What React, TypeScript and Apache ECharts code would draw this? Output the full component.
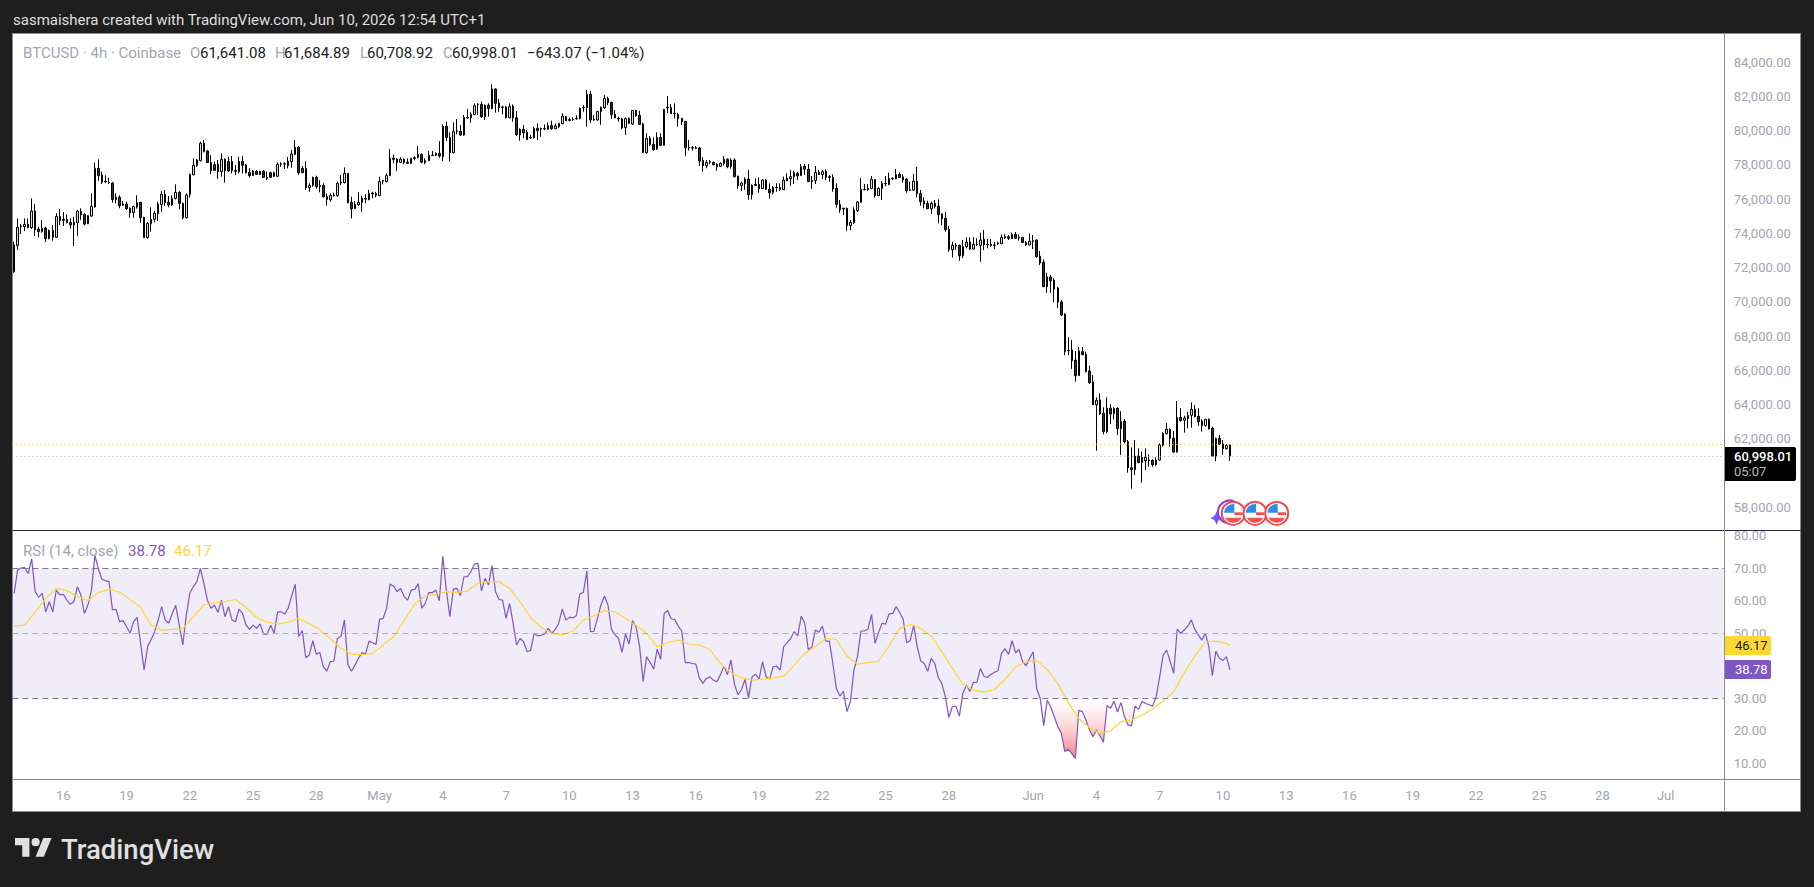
import { useEffect, useRef } from 'react';
import * as echarts from 'echarts';

// [open, close, low, high] per 4h bar
const candles = [
  [71760,73320,71700,73510],[73280,74350,73030,74870],[74390,74430,73960,74540],[74390,74520,74130,74870],[74520,74330,74290,74870],
  [74330,75300,74250,76040],[75300,74210,73840,75710],[74250,74100,73770,74390],[74100,74290,74040,74780],[74310,73690,73490,74390],
  [73690,74170,73650,74230],[74170,73770,73570,74470],[73770,74990,73730,75170],[74990,74740,74470,75420],[74820,74760,74430,75240],
  [74820,74620,74580,75110],[74640,74500,74270,74870],[74500,74640,73260,74970],[74620,75300,73840,75360],[75280,75090,74780,75460],
  [75110,74540,74470,75170],[74560,75030,74540,75070],[75010,75580,74970,76340],[75540,77800,75500,78130],[77800,77370,77060,78320],
  [77400,77000,76880,77600],[77040,77000,76960,77390],[76980,76940,76880,77250],[76940,75970,75790,77000],[75970,76100,75750,76340],
  [76100,75610,75460,76220],[75710,75650,75600,75890],[75710,75440,75360,75850],[75460,75200,74910,75520],[75200,75560,74910,75610],
  [75540,75790,75440,76220],[75810,74910,74620,75830],[74930,73750,73730,74970],[73750,74580,73690,74660],[74560,74820,74100,75520],
  [74820,75170,74640,75320],[75150,75710,74720,75850],[75690,76280,75260,76470],[76280,75790,75600,76530],[75810,75650,75520,76180],
  [75650,76040,75600,76220],[76040,76390,75980,76860],[76390,75750,75400,76470],[75750,74910,74820,75790],[74910,76240,74870,76340],
  [76260,77440,76080,77500],[77420,77970,77390,78380],[77950,78280,77890,78340],[78240,79260,78200,79350],[79260,78770,78730,79450],
  [78810,78130,78120,78870],[78130,77660,77460,78570],[78010,77680,77640,78190],[78030,77600,77190,78280],[77600,78320,77310,78670],
  [78320,77660,76960,78380],[78200,77640,77600,78480],[78200,77660,77500,78520],[77680,77620,77410,77990],[77600,78200,77500,78480],
  [78200,77970,77500,78520],[77990,77540,77500,78050],[77560,77370,77250,77800],[77370,77640,77350,77700],[77620,77440,77410,77700],
  [77620,77440,77410,77660],[77620,77270,77230,77700],[77270,77210,77110,77600],[77540,77270,77250,77600],[77540,77330,77310,77600],
  [77330,78030,77310,78150],[78030,78050,77890,78150],[78050,78060,77760,78150],[77950,78220,77790,78460],[78180,78630,77830,78870],
  [78610,79020,78570,79450],[79040,77540,77420,79100],[77790,77540,77530,77930],[77790,76670,76530,78220],[76670,76800,76430,76920],
  [76800,77270,76720,77310],[77270,76720,76610,77370],[76800,76740,76390,77110],[76800,76140,76080,76920],[76160,75980,75610,76330],
  [75960,76220,75850,76330],[76220,76200,76140,76370],[76200,76920,76140,77020],[76980,76940,76820,77400],[76960,77500,76920,77850],
  [77500,75790,75750,77520],[75810,75440,74870,76140],[75440,75690,75420,75890],[75670,75810,75590,76390],[75810,76040,75260,76200],
  [76040,76000,75750,76280],[75960,76330,75940,76530],[76350,76300,76040,76430],[76330,76220,76100,76430],[76200,77020,76180,77310],
  [77070,77040,76860,77110],[77020,77370,76980,77500],[77370,78380,77350,78920],[78380,78320,78090,78610],[78340,78130,77640,78380],
  [78150,78320,78100,78440],[78320,78150,78030,78380],[78150,78090,78070,78380],[78090,78380,78050,78390],[78420,78380,78260,78500],
  [78420,78610,78380,79100],[78610,78150,78090,78670],[78130,78260,78030,78380],[78240,78550,78220,78810],[78550,78570,78530,78810],
  [78570,78670,78510,78730],[78670,78520,78420,79390],[78480,80250,78220,80360],[80250,79590,79390,80520],[79600,78710,78180,79900],
  [78710,79940,78670,80480],[79980,79940,79780,80680],[79960,79740,79700,80330],[79740,80770,79700,80910],[80770,80730,80710,81260],
  [80750,80950,80460,81070],[80930,81450,80910,81590],[81550,81530,80910,81590],[81530,80810,80750,81690],[80810,81480,80620,81530],
  [81480,81280,80810,81590],[81280,82430,81240,82700],[82430,81590,81050,82470],[81610,81340,81100,81850],[81380,81360,80950,81450],
  [81380,80750,80710,81420],[80750,81400,80710,81590],[81420,80750,80520,81530],[80750,79760,79680,81140],[79740,80070,79410,80130],
  [80070,79880,79550,80330],[79900,79470,79450,80030],[79600,79570,79530,79740],[79580,80130,79550,80230],[80130,80000,79450,80420],
  [80130,80090,79640,80170],[80110,80090,80030,80360],[80090,80290,80050,80480],[80290,80110,80050,80580],[80110,80270,80090,80420],
  [80230,80420,80150,80460],[80400,80850,80380,81010],[80810,80580,80560,80850],[80640,80600,80540,80750],[80660,80640,80580,80770],
  [80700,80680,80640,80890],[80700,81300,80660,81340],[81360,81340,81100,81490],[81340,82120,80230,82370],[82120,80620,80460,82310],
  [80660,80620,80580,80910],[80620,81120,80580,81140],[81100,81360,80330,81400],[81340,81880,81260,82080],[81880,81630,81490,81980],
  [81650,80930,80680,81690],[80950,80750,80710,81200],[80710,80680,80520,80810],[80680,80150,80090,80750],[80170,80710,79740,80770],
  [80710,80420,80380,80770],[80380,81180,80340,81200],[81180,80870,80810,81200],[80890,80360,80320,81160],[80380,78710,78690,80460],
  [78710,79550,78650,79840],[79550,79180,79100,79680],[79200,78880,78830,79600],[78920,79600,78880,79900],[79600,79140,79120,79840],
  [79140,81240,79120,81260],[81360,81320,81010,82020],[81360,80990,80970,81550],[81010,80990,80710,81590],[80950,80700,80230,81050],
  [80710,80520,80330,80750],[80540,79000,78520,80560],[79020,78980,78830,79450],[79000,78980,78830,79100],[79000,78960,78920,79100],
  [78980,78220,77930,79060],[78260,77950,77600,78440],[77950,78130,77800,78280],[78170,78150,78050,78280],[78150,78010,77970,78190],
  [78030,77890,77660,78090],[77910,78090,77890,78150],[78070,78320,77950,78510],[78320,77890,77800,78380],[77890,78280,77780,78380],
  [78280,77310,77270,78380],[77330,76780,76590,77370],[76780,76940,76470,77010],[76900,77170,76530,77270],[77170,76260,75960,77700],
  [76800,76260,75980,76860],[76860,76800,76760,77210],[76860,76600,76370,77270],[76620,77110,76590,77150],[77110,76570,76550,77150],
  [76570,76370,76020,76920],[76390,76680,76260,76760],[76680,76660,76430,76920],[76680,76550,76470,76920],[76550,77110,76530,77310],
  [77070,77230,77040,77500],[77190,77310,76780,77700],[77310,77540,76880,77660],[77500,77350,77110,77600],[77370,77890,77350,78050],
  [77910,77740,77410,78050],[77740,77020,77020,78050],[77080,77020,76590,77350],[77080,77560,76880,77930],[77560,77440,77410,77700],
  [77430,77600,77170,77700],[77620,77270,77110,77740],[77310,77270,77020,77410],[77270,76590,76430,77440],[76630,75690,75500,76920],
  [75690,75380,75200,75950],[75460,75420,75070,75500],[75460,74450,74150,75500],[74450,74640,74190,74780],[74620,75360,74540,75520],
  [75320,75830,75260,75890],[75810,76570,75790,77230],[76570,76550,76510,76880],[76630,76550,76490,76880],[76610,77150,76590,77350],
  [77150,76200,76080,77170],[76200,76630,76180,76670],[76610,76920,75950,77060],[76920,76900,76760,77350],[76840,77210,76820,77540],
  [77210,77190,77110,77270],[77190,77440,77150,77760],[77440,77270,77230,77560],[77290,77110,76960,77440],[77170,76490,76370,77210],
  [76550,76510,76470,77020],[76530,77040,76490,77460],[77040,76320,76100,77890],[76330,75850,75610,76530],[75890,75710,75460,76100],
  [75750,75440,75420,75910],[75440,75750,75130,75850],[75750,75580,75460,75950],[75580,75090,74580,75980],[75130,74860,74480,75170],
  [74880,74210,74100,75260],[74230,73040,72930,74430],[73040,73300,72580,73510],[73300,73260,73020,73450],[73300,72690,72400,73340],
  [72690,73220,72560,73610],[73220,73490,73120,73760],[73490,73080,73040,73760],[73080,73360,73060,73780],[73360,73340,73260,73710],
  [73300,73610,72340,74040],[73650,73340,73020,74190],[73360,73340,73120,73690],[73360,73280,73220,73670],[73320,73300,73080,73510],
  [73430,73390,73320,73510],[73390,73760,73380,73940],[73800,73730,73670,73940],[73800,73710,73610,73900],[73690,73940,73670,74040],
  [73940,73710,73670,74080],[73760,73730,73570,73920],[73760,73470,73430,73800],[73470,73320,73260,73550],[73320,73530,73300,74000],
  [73570,73530,73080,73900],[73610,72640,72580,73650],[72660,72270,72150,72970],[72310,70880,70880,72480],[70880,71450,70530,71700],
  [71450,71220,70520,71570],[71270,70750,69990,71390],[70810,69990,69640,70870],[69990,69230,69170,70110],[69290,67090,66890,69330],
  [67170,67150,66890,67930],[67190,66560,66080,67770],[66600,65690,65340,67130],[65690,67130,65670,67360],[67090,66910,66890,67360],
  [66930,65920,65880,67090],[65960,65280,65200,66270],[65320,63990,63970,65730],[63990,64250,61300,64420],[64270,63450,63390,64650],
  [63490,62420,62260,63840],[62420,63780,62320,64420],[63780,63450,62860,64010],[63470,63780,63130,63840],[63780,62590,62220,63840],
  [62590,63020,61050,63620],[63020,61830,61730,63160],[61830,60310,60020,61930],[60310,60200,59090,61500],[60200,60990,59880,61930],
  [60990,60610,60570,61440],[60920,60620,59440,61250],[60720,60920,60180,61440],[60760,60720,60370,61090],[60740,60490,60370,60800],
  [60490,60760,60430,60920],[60760,61640,60720,61730],[61620,62320,61540,62380],[62300,62550,62260,62920],[62550,62030,61540,62610],
  [62030,61230,61190,62450],[61230,63250,61190,64210],[63250,63060,63000,63780],[63080,63210,62360,63350],[63180,63370,62610,63580],
  [63370,63720,62650,64130],[63720,63290,63250,63970],[63310,63000,62750,63780],[63040,62770,62420,63140],[62770,63140,62710,63160],
  [63140,62570,62550,63190],[62610,60990,60950,62710],[60990,62030,60700,62070],[62030,61680,61640,62220],[61700,61420,61070,61930],
  [61420,61620,61380,61680],[61641.08,60998.01,60708.92,61684.89],
];

const rsiValues = [
  62.3,69.5,70.1,70.2,68.4,72.8,62.8,61.1,62.3,56.6,59.7,56.6,63.3,61.8,62.0,60.2,58.9,59.7,64.3,61.8,
  56.1,58.7,63.3,73.9,69.7,66.6,66.2,65.9,57.2,57.4,53.6,53.9,52.0,50.0,53.6,54.9,46.9,38.7,45.9,48.1,
  50.5,54.1,58.2,54.1,53.1,56.1,58.6,52.5,46.4,55.6,62.3,64.3,65.9,70.0,65.4,60.2,57.7,58.7,56.4,60.2,
  55.1,58.2,54.1,53.6,57.4,56.1,52.5,51.2,52.5,51.5,52.9,49.7,49.7,52.5,50.0,56.6,56.6,55.9,57.7,61.5,
  65.1,49.0,50.8,42.5,43.3,47.7,43.6,44.1,39.7,38.4,41.3,41.4,48.4,49.0,54.1,40.4,38.3,40.2,42.3,44.1,
  43.6,47.6,47.1,46.6,54.3,54.6,57.7,65.2,64.5,62.8,63.8,61.3,60.2,63.3,63.5,65.2,57.7,59.2,62.5,62.5,
  63.3,60.0,73.8,63.3,55.1,63.6,63.8,61.6,67.4,67.4,69.0,71.3,71.5,63.0,66.9,64.9,70.8,62.8,60.4,60.2,
  54.6,59.2,53.1,46.4,48.4,47.4,44.3,44.8,50.0,49.2,49.4,49.8,51.5,50.0,51.2,53.1,57.5,54.1,54.9,54.8,
  55.4,62.1,62.6,69.2,50.5,50.6,54.6,58.7,61.5,58.7,51.2,49.5,48.4,44.1,49.8,46.7,53.9,52.0,45.9,35.1,
  42.8,41.0,39.0,45.1,42.0,56.1,57.0,54.4,54.3,52.2,50.7,41.0,41.0,40.7,40.5,36.3,34.6,36.1,36.6,35.6,
  35.1,37.2,39.9,37.2,41.8,34.3,31.1,32.7,35.8,30.2,36.6,37.4,35.9,41.3,36.6,35.9,39.7,39.9,38.7,45.9,
  47.1,48.4,50.5,49.2,55.3,53.1,45.0,45.7,51.0,50.3,52.2,47.6,47.6,40.7,33.0,30.7,32.1,25.9,29.0,38.7,
  42.8,50.7,50.7,51.3,55.8,46.9,50.2,53.1,52.8,56.0,56.1,58.2,56.4,54.4,47.1,47.7,52.5,45.9,41.5,40.7,
  38.3,42.3,40.7,36.4,34.6,30.5,24.1,27.4,27.6,24.5,31.5,34.1,32.1,34.9,35.0,39.2,36.8,36.4,37.4,38.0,
  38.5,43.8,45.3,43.5,47.7,44.0,45.0,41.3,40.0,42.3,44.3,33.0,30.0,21.6,29.4,27.4,24.3,21.3,19.2,13.6,
  14.3,13.0,11.5,26.3,25.9,23.3,20.4,18.2,20.2,18.4,16.5,27.7,26.9,29.1,25.8,28.7,24.3,21.8,21.5,27.6,
  26.6,29.0,28.4,28.0,27.6,30.5,36.6,43.3,44.8,41.3,37.7,51.3,50.0,51.0,52.2,54.1,51.2,49.5,47.9,50.0,
  45.9,37.0,44.5,42.3,41.6,42.8,38.78,
];

// the yellow average, read at every third bar
const rsiAverage = [
  52.3,52.5,56.6,60.7,63.8,63.1,61.3,60.0,62.6,63.5,62.7,60.5,58.0,52.5,51.0,51.2,51.4,55.1,58.7,59.4,
  59.7,60.4,58.0,54.9,53.4,52.9,53.4,54.6,52.9,51.2,48.3,45.4,43.6,43.4,43.8,46.4,49.0,53.9,59.0,61.5,
  62.0,62.8,62.6,63.0,65.4,65.9,65.9,63.8,59.7,54.9,51.8,50.0,49.5,50.7,54.1,55.4,57.0,56.6,54.6,52.5,
  50.0,45.9,47.1,47.9,46.7,46.4,45.0,40.7,37.9,36.3,35.6,35.9,36.2,36.8,40.2,43.8,45.9,48.4,48.1,43.0,
  40.5,41.0,41.4,46.1,51.5,52.7,51.5,49.2,44.3,39.2,34.4,32.5,32.0,32.7,35.8,39.7,41.3,41.6,38.9,34.6,
  28.6,23.8,21.0,19.2,20.0,22.8,23.3,24.8,26.8,29.2,32.0,37.9,43.0,47.4,47.6,46.9,
];
const lastAverage = 46.17;

// 60,000 and 40.00 sit behind the price tags in the reference
const priceTicks = [58000,62000,64000,66000,68000,70000,72000,74000,76000,78000,80000,82000,84000];
const rsiTicks = [10,20,30,50,60,70,80];
const timeLabels = ['16','19','22','25','28','May','4','7','10','13','16','19','22','25','28','Jun','4','7','10','13','16','19','22','25','28','Jul'];
const timeLabelBars = [14,32,50,68,86,104,122,140,158,176,194,212,230,248,266,290,308,326,344,362,380,398,416,434,452,470];

const BAR_COUNT = 487;
const FONT = 'Roboto';
const categories = Array.from({ length: BAR_COUNT }, (_, i) => String(i));
const labelAt = new Map(timeLabelBars.map((bar, i) => [bar, timeLabels[i]]));

echarts.graphic.registerShape('tvLogo', echarts.graphic.extendPath(
  'M14 22H7V11H0V4h14v18zM28 22h-8l7.5-18h8L28 22zM24 8a4 4 0 1 1-8 0 4 4 0 0 1 8 0z', {}));
echarts.graphic.registerShape('flagCap', echarts.graphic.extendPath('M-8.3 4.5A9.4 9.4 0 0 0 8.3 4.5Z', {}));
echarts.graphic.registerShape('flagBlue', echarts.graphic.extendPath('M-9.3 -0.5A9.4 9.4 0 0 1 1 -9.3V-0.5Z', {}));
echarts.graphic.registerShape('star4', echarts.graphic.extendPath('M0 -7Q1 -1 7 0Q1 1 0 7Q-1 1 -7 0Q-1 -1 0 -7Z', {}));

function label(text: string, x: number, y: number, fill: string, size = 15, weight = 400) {
  return {
    type: 'text', x, y, z: 100,
    style: { text, fill, fontFamily: FONT, fontSize: size, fontWeight: weight, verticalAlign: 'middle' },
  };
}

function flag(cx: number, cy: number, z: number) {
  return {
    type: 'group', x: cx, y: cy,
    children: [
      { type: 'circle', z, shape: { cx: 0, cy: 0, r: 11.5 }, style: { fill: '#ffffff', stroke: '#f04a55', lineWidth: 2 } },
      { type: 'flagBlue', z: z + 1, style: { fill: '#2f8fe8' } },
      { type: 'rect', z: z + 1, shape: { x: 1, y: -1, width: 8.4, height: 2.8 }, style: { fill: '#ef5350' } },
      { type: 'flagCap', z: z + 1, style: { fill: '#ef5350' } },
    ],
  };
}

export default function App() {
  const chartRef = useRef<HTMLDivElement>(null);

  useEffect(() => {
    if (!chartRef.current) return;
    const chart = echarts.init(chartRef.current, null, { renderer: 'svg' });

    const axisText = { color: '#a3a6af', fontFamily: FONT, fontSize: 13 };

    const option: any = {
      animation: false,
      backgroundColor: '#1e1e1e',
      grid: [
        { left: 12.35, top: 34, width: 1711.3, height: 496 },
        { left: 12.35, top: 530, width: 1711.3, height: 249 },
      ],
      xAxis: [
        {
          type: 'category', gridIndex: 0, data: categories, boundaryGap: true,
          axisLine: { show: false }, axisTick: { show: false }, axisLabel: { show: false }, splitLine: { show: false },
        },
        {
          type: 'category', gridIndex: 1, data: categories, boundaryGap: true,
          axisLine: { show: false }, axisTick: { show: false }, splitLine: { show: false },
          axisLabel: {
            ...axisText,
            margin: 10,
            interval: (index: number) => labelAt.has(index),
            formatter: (_value: string, index: number) => labelAt.get(index) ?? '',
          },
        },
      ],
      yAxis: [
        {
          type: 'value', gridIndex: 0, position: 'right', min: 56674, max: 85641, scale: true,
          splitLine: { show: false }, axisLine: { show: false }, axisTick: { show: false },
          axisLabel: {
            ...axisText, margin: 10, customValues: priceTicks,
            formatter: (v: number) => v.toLocaleString('en-US', { minimumFractionDigits: 2 }),
          },
        },
        {
          type: 'value', gridIndex: 1, position: 'right', min: 5.17, max: 81.78, scale: true,
          splitLine: { show: false }, axisLine: { show: false }, axisTick: { show: false },
          axisLabel: { ...axisText, margin: 10, customValues: rsiTicks, formatter: (v: number) => v.toFixed(2) },
        },
      ],
      series: [
        {
          type: 'candlestick', xAxisIndex: 0, yAxisIndex: 0, data: candles, barWidth: 2,
          itemStyle: { color: '#dcdcdc', color0: '#333333', borderColor: '#000000', borderColor0: '#000000', borderWidth: 1 },
          markLine: {
            silent: true, symbol: 'none', label: { show: false },
            data: [
              { yAxis: 61684.89, lineStyle: { color: '#f5d90a', type: [1, 3], width: 1 } },
              { yAxis: 60998.01, lineStyle: { color: '#a8a8a8', type: [1, 3], width: 1 } },
            ],
          },
        },
        {
          type: 'line', xAxisIndex: 1, yAxisIndex: 1, symbol: 'none', data: rsiValues.map(v => Math.min(v, 30)),
          lineStyle: { opacity: 0 }, z: 1,
          areaStyle: {
            origin: 30,
            opacity: 1,
            color: new echarts.graphic.LinearGradient(0, 0, 0, 1, [
              { offset: 0, color: 'rgba(255,255,255,0.4)' },
              { offset: 1, color: '#f67c83' },
            ]),
          },
          markArea: {
            silent: true,
            itemStyle: { color: 'rgba(126,87,194,0.115)' },
            data: [[{ yAxis: 70 }, { yAxis: 30 }]],
          },
          markLine: {
            silent: true, symbol: 'none', label: { show: false },
            data: [
              { yAxis: 70, lineStyle: { color: '#787b86', type: [6, 4], width: 1 } },
              { yAxis: 50, lineStyle: { color: '#acaeb4', type: [6, 4], width: 1 } },
              { yAxis: 30, lineStyle: { color: '#787b86', type: [6, 4], width: 1 } },
            ],
          },
        },
        {
          type: 'line', xAxisIndex: 1, yAxisIndex: 1, symbol: 'none', data: rsiValues, z: 3,
          lineStyle: { color: '#7e57c2', width: 1.2 },
        },
        {
          type: 'line', xAxisIndex: 1, yAxisIndex: 1, symbol: 'none', z: 4,
          data: [...rsiAverage.map((v, k) => [k * 3, v]), [346, lastAverage]],
          lineStyle: { color: '#fdd835', width: 1.2 },
        },
      ],
      graphic: [
        // white panel behind both panes
        { type: 'rect', z: -1, shape: { x: 12.5, y: 33.5, width: 1788, height: 778 }, style: { fill: '#ffffff', stroke: '#8c8c8c', lineWidth: 1 } },
        { type: 'line', z: 80, shape: { x1: 12.5, y1: 530.5, x2: 1800.5, y2: 530.5 }, style: { stroke: '#2a2e39', lineWidth: 1 } },
        { type: 'line', z: 80, shape: { x1: 12.5, y1: 779.5, x2: 1800.5, y2: 779.5 }, style: { stroke: '#8c8c8c', lineWidth: 1 } },
        { type: 'line', z: 80, shape: { x1: 1724.5, y1: 33.5, x2: 1724.5, y2: 811.5 }, style: { stroke: '#8c8c8c', lineWidth: 1 } },

        label('sasmaishera created with TradingView.com, Jun 10, 2026 12:54 UTC+1', 13, 20, '#dedede'),
        label('BTCUSD · 4h · Coinbase', 23, 53, '#a3a6af'),
        label('O', 190, 53, '#a3a6af'), label('61,641.08', 200, 53, '#222222'),
        label('H', 275, 53, '#a3a6af'), label('61,684.89', 284, 53, '#222222'),
        label('L', 360, 53, '#a3a6af'), label('60,708.92', 367, 53, '#222222'),
        label('C', 443, 53, '#a3a6af'), label('60,998.01', 452, 53, '#222222'),
        label('−643.07 (−1.04%)', 527, 53, '#222222'),
        label('RSI (14, close)', 23, 551, '#a3a6af'),
        label('38.78', 128, 551, '#7e57c2'),
        label('46.17', 174, 551, '#fdd835'),

        { type: 'rect', z: 95, shape: { x: 1725, y: 447, width: 71, height: 34, r: [0, 2, 2, 0] }, style: { fill: '#000000' } },
        label('60,998.01', 1734, 456, '#ffffff', 13, 500),
        label('05:07', 1734, 471, '#b9b9b9', 13),
        { type: 'rect', z: 95, shape: { x: 1725, y: 636, width: 46, height: 19, r: [0, 2, 2, 0] }, style: { fill: '#fdd835' } },
        label('46.17', 1735, 645.5, '#131722', 13),
        { type: 'rect', z: 95, shape: { x: 1725, y: 660, width: 46, height: 19, r: [0, 2, 2, 0] }, style: { fill: '#7e57c2' } },
        label('38.78', 1735, 669.5, '#ffffff', 13),

        { type: 'circle', z: 85, shape: { cx: 1229.5, cy: 512, r: 11.5 }, style: { fill: 'none', stroke: '#8e3fc4', lineWidth: 2 } },
        { type: 'star4', z: 86, x: 1216.5, y: 518, style: { fill: '#7c4dff' } },
        flag(1233.3, 513.3, 87),
        flag(1255, 513.3, 89),
        flag(1276.7, 513.3, 91),

        { type: 'tvLogo', z: 100, x: 15, y: 834, scaleX: 1.03, scaleY: 1.03, style: { fill: '#e0e0e0' } },
        label('TradingView', 61, 849, '#e0e0e0', 27.5, 500),
      ],
    };

    chart.setOption(option);
    return () => chart.dispose();
  }, []);

  return <div ref={chartRef} style={{ position: 'fixed', left: 0, top: 0, width: 1814, height: 887 }} />;
}
